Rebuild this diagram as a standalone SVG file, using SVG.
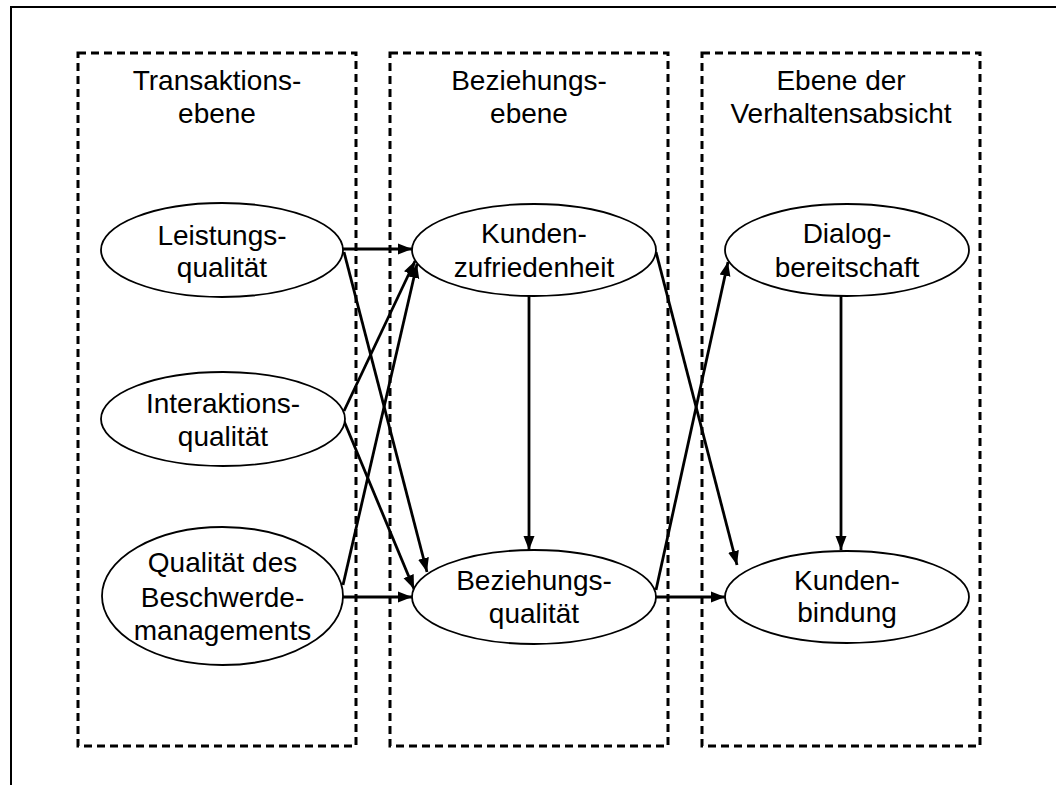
<svg xmlns="http://www.w3.org/2000/svg" width="1056" height="785" viewBox="0 0 1056 785">
  <style>
    .frame { fill: none; stroke: #000; stroke-width: 2; }
    .level { fill: none; stroke: #000; stroke-width: 3; stroke-dasharray: 8 5; }
    .node { fill: #fff; stroke: #000; stroke-width: 1.8; }
    .label { font-family: "Liberation Sans", Arial, sans-serif; font-size: 28px; fill: #000; text-anchor: middle; }
    .edge { fill: none; stroke: #000; stroke-width: 2.8; marker-end: url(#arrow); }
  </style>
  <defs>
    <marker id="arrow" markerUnits="userSpaceOnUse" markerWidth="15" markerHeight="12" refX="14" refY="6" orient="auto">
      <path d="M0,0.5 L14,6 L0,11.5 Z" fill="#000"/>
    </marker>
  </defs>

  <rect width="1056" height="785" fill="#fff"/>

  <!-- outer frame (left and top edges only) -->
  <path class="frame" d="M11,785 V7 H1056"/>

  <!-- level columns -->
  <g id="level-transaktion">
    <rect class="level" x="78" y="53" width="278" height="693"/>
    <text class="label" x="217" y="90">Transaktions-</text>
    <text class="label" x="217" y="123">ebene</text>
  </g>
  <g id="level-beziehung">
    <rect class="level" x="390" y="53" width="278" height="693"/>
    <text class="label" x="529" y="90">Beziehungs-</text>
    <text class="label" x="529" y="123">ebene</text>
  </g>
  <g id="level-verhalten">
    <rect class="level" x="702" y="53" width="278" height="693"/>
    <text class="label" x="841" y="90">Ebene der</text>
    <text class="label" x="841" y="123">Verhaltensabsicht</text>
  </g>

  <!-- connectors -->
  <g id="connectors">
    <line class="edge" x1="343" y1="249" x2="412" y2="249"/>
    <line class="edge" x1="344" y1="252" x2="427" y2="572"/>
    <line class="edge" x1="344" y1="411" x2="415" y2="261"/>
    <line class="edge" x1="344" y1="421" x2="414" y2="589"/>
    <line class="edge" x1="343" y1="585" x2="417" y2="264"/>
    <line class="edge" x1="343" y1="597" x2="412" y2="597"/>
    <line class="edge" x1="529" y1="296" x2="529" y2="550"/>
    <line class="edge" x1="656" y1="252" x2="737" y2="565"/>
    <line class="edge" x1="656" y1="590" x2="728" y2="262"/>
    <line class="edge" x1="656" y1="597" x2="725" y2="597"/>
    <line class="edge" x1="841" y1="296" x2="841" y2="550"/>
  </g>

  <!-- transaction level nodes -->
  <g id="leistungsqualitaet">
    <ellipse class="node" cx="222" cy="250" rx="121" ry="47"/>
    <text class="label" x="222" y="245">Leistungs-</text>
    <text class="label" x="222" y="277">qualität</text>
  </g>
  <g id="interaktionsqualitaet">
    <ellipse class="node" cx="223" cy="419" rx="122" ry="47"/>
    <text class="label" x="223" y="413">Interaktions-</text>
    <text class="label" x="223" y="446">qualität</text>
  </g>
  <g id="beschwerdemanagement">
    <ellipse class="node" cx="222.5" cy="596" rx="120.5" ry="69"/>
    <text class="label" x="222.5" y="572">Qualität des</text>
    <text class="label" x="222.5" y="607">Beschwerde-</text>
    <text class="label" x="222.5" y="640">managements</text>
  </g>

  <!-- relationship level nodes -->
  <g id="kundenzufriedenheit">
    <ellipse class="node" cx="534" cy="250" rx="122" ry="46"/>
    <text class="label" x="534" y="243">Kunden-</text>
    <text class="label" x="534" y="277">zufriedenheit</text>
  </g>
  <g id="beziehungsqualitaet">
    <ellipse class="node" cx="534" cy="597" rx="122" ry="47"/>
    <text class="label" x="534" y="590">Beziehungs-</text>
    <text class="label" x="534" y="623">qualität</text>
  </g>

  <!-- behavioural intention level nodes -->
  <g id="dialogbereitschaft">
    <ellipse class="node" cx="847" cy="250" rx="122" ry="46"/>
    <text class="label" x="847" y="243">Dialog-</text>
    <text class="label" x="847" y="277">bereitschaft</text>
  </g>
  <g id="kundenbindung">
    <ellipse class="node" cx="847" cy="597" rx="122" ry="46"/>
    <text class="label" x="847" y="590">Kunden-</text>
    <text class="label" x="847" y="622">bindung</text>
  </g>
</svg>
